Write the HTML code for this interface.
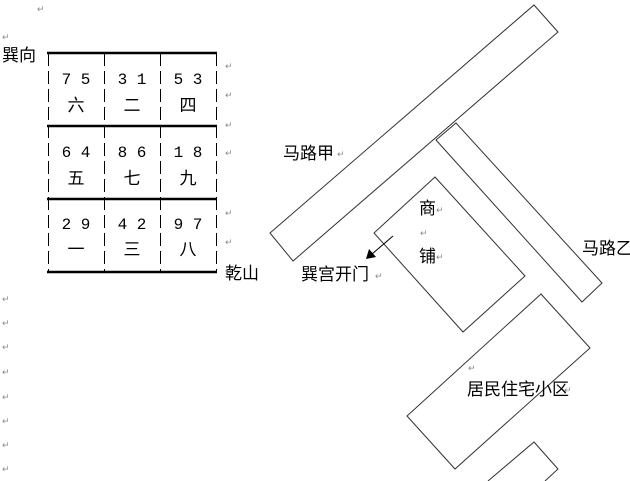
<!DOCTYPE html>
<html><head><meta charset="utf-8"><style>
html,body{margin:0;padding:0;background:#fff;width:630px;height:481px;overflow:hidden}
svg{display:block}
text{font-family:"Liberation Sans","Noto Sans CJK SC","WenQuanYi Zen Hei",sans-serif;fill:#000}
.r{fill:#888;font-size:9px}
.n{font-size:16px;font-family:"Liberation Mono","Noto Sans CJK SC",monospace}
.c{font-size:17px}
</style></head><body>
<svg width="630" height="481" viewBox="0 0 630 481">
<g stroke="#000" stroke-width="2.5">
<line x1="47" y1="53" x2="217" y2="53"/>
<line x1="47" y1="126" x2="217" y2="126"/>
<line x1="47" y1="199" x2="217" y2="199"/>
<line x1="47" y1="272" x2="217" y2="272"/>
</g>
<g stroke="#000" stroke-width="1" stroke-dasharray="13,5">
<line x1="48.5" y1="53" x2="48.5" y2="272"/>
<line x1="104.5" y1="53" x2="104.5" y2="272"/>
<line x1="160.5" y1="53" x2="160.5" y2="272"/>
<line x1="216.5" y1="53" x2="216.5" y2="272"/>
</g>
<g text-anchor="middle">
<text class="n" x="76" y="84">7 5</text><text class="n" x="132" y="84">3 1</text><text class="n" x="188" y="84">5 3</text>
<text class="c" x="76" y="111">六</text><text class="c" x="132" y="111">二</text><text class="c" x="188" y="111">四</text>
<text class="n" x="76" y="157">6 4</text><text class="n" x="132" y="157">8 6</text><text class="n" x="188" y="157">1 8</text>
<text class="c" x="76" y="184">五</text><text class="c" x="132" y="184">七</text><text class="c" x="188" y="184">九</text>
<text class="n" x="76" y="229">2 9</text><text class="n" x="132" y="229">4 2</text><text class="n" x="188" y="229">9 7</text>
<text class="c" x="76" y="255">一</text><text class="c" x="132" y="255">三</text><text class="c" x="188" y="255">八</text>
</g>
<text class="c" x="2" y="61">巽向</text>
<text class="c" x="225" y="279">乾山</text>
<g class="r">
<text class="r" x="37" y="12">↵</text><text class="r" x="2" y="40">↵</text>
<text class="r" x="225" y="69">↵</text><text class="r" x="225" y="98">↵</text><text class="r" x="225" y="128">↵</text>
<text class="r" x="225" y="156">↵</text><text class="r" x="225" y="216">↵</text><text class="r" x="225" y="245">↵</text><text class="r" x="225" y="274">↵</text>
<text class="r" x="2" y="302">↵</text><text class="r" x="2" y="326">↵</text><text class="r" x="2" y="350">↵</text><text class="r" x="2" y="375">↵</text>
<text class="r" x="2" y="400">↵</text><text class="r" x="2" y="424">↵</text><text class="r" x="2" y="448">↵</text><text class="r" x="2" y="472">↵</text>
</g>
<g fill="none" stroke="#333" stroke-width="1">
<polygon points="270,233 534,5 558,32 293,261"/>
<polygon points="436,140 456,123 602,283 582,302"/>
<polygon points="435,177 374,233 463,332 525,276"/>
<polygon points="541,294 407,416 455,469 590,348"/>
<polyline points="488,481 534,442 558,469 545,481"/>
<line x1="393" y1="236" x2="372" y2="254" stroke="#000"/>
</g>
<polygon points="366,259 369,249 376,257" fill="#000"/>
<text class="c" x="283" y="159">马路甲</text><text class="r" x="337" y="157">↵</text>
<text class="c" x="582" y="254">马路乙</text>
<text class="c" x="301" y="280">巽宫开门</text><text class="r" x="375" y="279">↵</text>
<text class="c" x="419" y="214">商</text><text class="r" x="436" y="213">↵</text>
<text class="r" x="420" y="236">↵</text>
<text class="c" x="419" y="262">铺</text><text class="r" x="436" y="260">↵</text>
<text class="r" x="468" y="371">↵</text>
<text class="c" x="467" y="395">居民住宅小区</text><text class="r" x="564" y="393">↵</text>
</svg>
</body></html>
